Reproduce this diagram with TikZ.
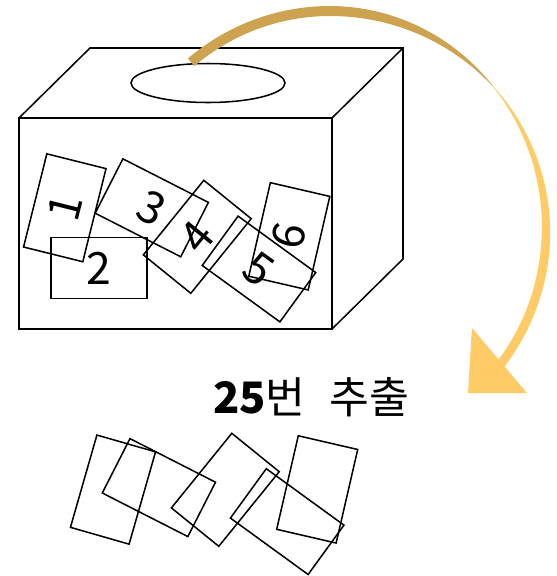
\documentclass[tikz,border=0pt]{standalone}
\usepackage{fontspec}
\newfontfamily\kr{Noto Sans CJK KR}
\definecolor{arcgold}{RGB}{206,163,80}
\definecolor{arcyellow}{RGB}{255,203,102}

\begin{document}
\begin{tikzpicture}[x=0.03cm, y=-0.03cm,
    line width=1.3pt,
    card/.style={draw, minimum width=2.88cm, minimum height=1.83cm,
      inner sep=0pt, font=\kr\fontsize{38}{38}\selectfont},
    declare function={wa(\t)=0.5+9.5*sin(90*min(1,(\t-41)/50));
                      wb(\t)=0.5+8.5*sin(90*min(1,(41-\t)/55));}]
  \useasboundingbox (0,0) rectangle (557,576);
  % the box: front face, back edges and the slot on top
  \coordinate (F1) at (19,118);  \coordinate (F2) at (332,118);
  \coordinate (F3) at (332,329); \coordinate (F4) at (19,329);
  \coordinate (B1) at (90,48);   \coordinate (B2) at (403,48);
  \coordinate (B3) at (403,259);
  \draw (F1) rectangle (F3);
  \draw (F1) -- (B1) -- (B2) -- (B3) -- (F3);
  \draw (F2) -- (B2);
  \draw (208,83) ellipse [x radius=77, y radius=19.5];
  % numbered cards inside the box
  \node[card, rotate=76]  (c1) at (64.8,207.8)  {1};
  \node[card]             (c2) at (99,268)      {2};
  \node[card, rotate=-27] (c3) at (151.8,207.8) {3};
  \node[card, rotate=51]  (c4) at (197.3,236.8) {4};
  \node[card, rotate=-36] (c5) at (259,269)     {5};
  \node[card, rotate=77]  (c6) at (289.3,236.3) {6};
  % drawn cards, face down
  \node[card, rotate=74]  (d1) at (113,489.6)   {};
  \node[card, rotate=-27] (d2) at (158.9,487.6) {};
  \node[card, rotate=51]  (d3) at (225.3,489.8) {};
  \node[card, rotate=-36] (d4) at (287.2,521.6) {};
  \node[card, rotate=77]  (d5) at (317.2,489.4) {};
  % curved arrow: gold tail thinning out, yellow part with the head
  \fill[arcgold]
    plot[domain=130:41, samples=80] ({330+(216+wa(\x)/2)*cos(\x)},{230-(219+wa(\x)/2)*sin(\x)})
    -- plot[domain=41:130, samples=80] ({330+(216-wa(\x)/2)*cos(\x)},{230-(219-wa(\x)/2)*sin(\x)})
    -- cycle;
  \fill[arcyellow]
    plot[domain=41:-40, samples=80] ({330+(216+wb(\x)/2)*cos(\x)},{230-(219+wb(\x)/2)*sin(\x)})
    -- plot[domain=-40:41, samples=80] ({330+(216-wb(\x)/2)*cos(\x)},{230-(219-wb(\x)/2)*sin(\x)})
    -- cycle;
  \coordinate (H1) at (472,328);
  \coordinate (H2) at (527,393);
  \coordinate (H3) at (468,393);
  \fill[arcyellow] (H1) -- (H2) -- (H3) -- cycle;
  \node[font=\kr\fontsize{37}{37}\selectfont, anchor=base] (caption) at (311,413)
    {{\bfseries 25}번\hspace{20pt}추출};
\end{tikzpicture}
\end{document}
